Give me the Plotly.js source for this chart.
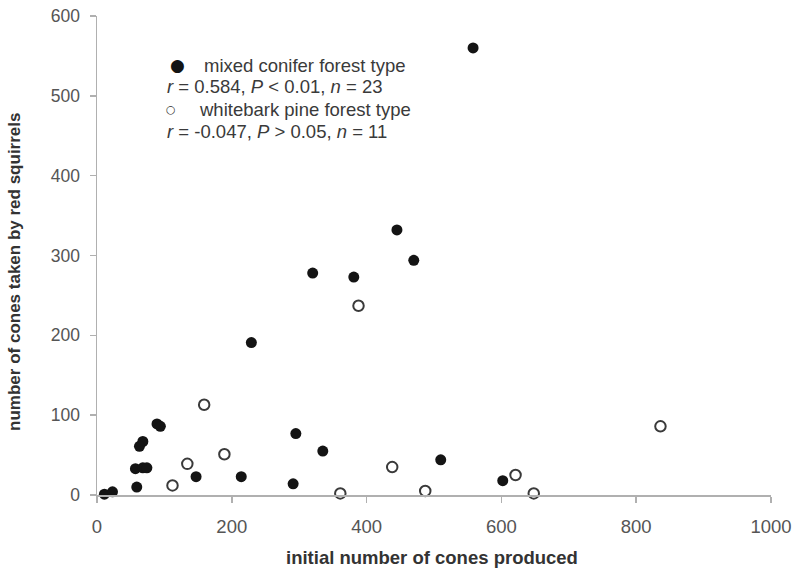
<!DOCTYPE html>
<html><head><meta charset="utf-8">
<script src="https://cdn.plot.ly/plotly-3.0.1.min.js"></script>
<style>body{margin:0;background:#fff}#c{width:792px;height:571px}</style>
</head><body><div id="c"></div>
<script>
const mixedX = [558, 445, 470, 320, 381, 229, 89, 94, 68, 63, 57, 68, 74, 147, 214, 59, 11, 23, 291, 295, 335, 510, 602];
const mixedY = [560, 332, 294, 278, 273, 191, 89, 86, 67, 61, 33, 34, 34, 23, 23, 10, 1, 4, 14, 77, 55, 44, 18];
const whiteX = [388, 159, 189, 134, 112, 361, 438, 487, 621, 648, 836];
const whiteY = [237, 113, 51, 39, 12, 2, 35, 5, 25, 2, 86];
const xTicks = [0, 200, 400, 600, 800, 1000];
const yTicks = [0, 100, 200, 300, 400, 500, 600];
const legendLines = [
  "mixed conifer forest type",
  "<i>r</i> = 0.584, <i>P</i> &lt; 0.01, <i>n</i> = 23",
  "whitebark pine forest type",
  "<i>r</i> = -0.047, <i>P</i> &gt; 0.05, <i>n</i> = 11"
];

const font = "Liberation Sans, Arial, sans-serif";
const traces = [
  {x: mixedX, y: mixedY, type: 'scatter', mode: 'markers', cliponaxis: false,
   marker: {symbol: 'circle', size: 11, color: '#141414', line: {width: 0}}},
  {x: whiteX, y: whiteY, type: 'scatter', mode: 'markers', cliponaxis: false,
   marker: {symbol: 'circle', size: 10.5, color: '#ffffff', line: {width: 2, color: '#3a3a3a'}}}
];
const axisCommon = {
  showline: true, linecolor: '#b0b0b0', linewidth: 1.5,
  ticks: 'outside', tickcolor: '#b0b0b0', ticklen: 6, tickwidth: 1.5,
  showgrid: false, zeroline: false
};
const legFont = {family: font, size: 18.5, color: '#3a3a3a'};
const ann = [
  {xref: 'paper', yref: 'paper', x: 0.497, y: -0.1315, yanchor: 'middle', xanchor: 'center', showarrow: false,
   text: '<b>initial number of cones produced</b>', font: {family: font, size: 18.5, color: '#333'}},
  {xref: 'paper', yref: 'paper', x: -0.1215, y: 0.466, yanchor: 'middle', xanchor: 'center', showarrow: false, textangle: -90,
   text: '<b>number of cones taken by red squirrels</b>', font: {family: font, size: 17, color: '#333'}},
  {xref: 'paper', yref: 'paper', x: 0.1187, y: 0.8977, xanchor: 'center', yanchor: 'middle', showarrow: false,
   text: '●', font: {family: 'DejaVu Sans', size: 17, color: '#141414'}},
  {xref: 'paper', yref: 'paper', x: 0.1105, y: 0.8058, xanchor: 'center', yanchor: 'middle', showarrow: false,
   text: '○', font: {family: 'DejaVu Sans', size: 11, color: '#333'}},
  {xref: 'paper', yref: 'paper', x: 0.1558, y: 0.8977, xanchor: 'left', yanchor: 'middle', showarrow: false,
   text: legendLines[0], font: legFont},
  {xref: 'paper', yref: 'paper', x: 0.1010, y: 0.8518, xanchor: 'left', yanchor: 'middle', showarrow: false,
   text: legendLines[1], font: legFont},
  {xref: 'paper', yref: 'paper', x: 0.1484, y: 0.8058, xanchor: 'left', yanchor: 'middle', showarrow: false,
   text: legendLines[2], font: legFont},
  {xref: 'paper', yref: 'paper', x: 0.1010, y: 0.7599, xanchor: 'left', yanchor: 'middle', showarrow: false,
   text: legendLines[3], font: legFont}
];
const layout = {
  width: 792, height: 571,
  margin: {l: 97, r: 21, t: 16, b: 76},
  paper_bgcolor: '#fff', plot_bgcolor: '#fff',
  showlegend: false,
  xaxis: Object.assign({range: [0, 1000], tickvals: xTicks, ticktext: xTicks.map(String),
    ticklabelstandoff: 8, tickfont: {family: font, size: 18.5, color: '#555'}}, axisCommon),
  yaxis: Object.assign({range: [0, 600], tickvals: yTicks, ticktext: yTicks.map(String),
    ticklabelstandoff: 6, tickfont: {family: font, size: 17.5, color: '#555'}}, axisCommon),
  annotations: ann
};
Plotly.newPlot('c', traces, layout, {displayModeBar: false, staticPlot: true});
</script></body></html>
